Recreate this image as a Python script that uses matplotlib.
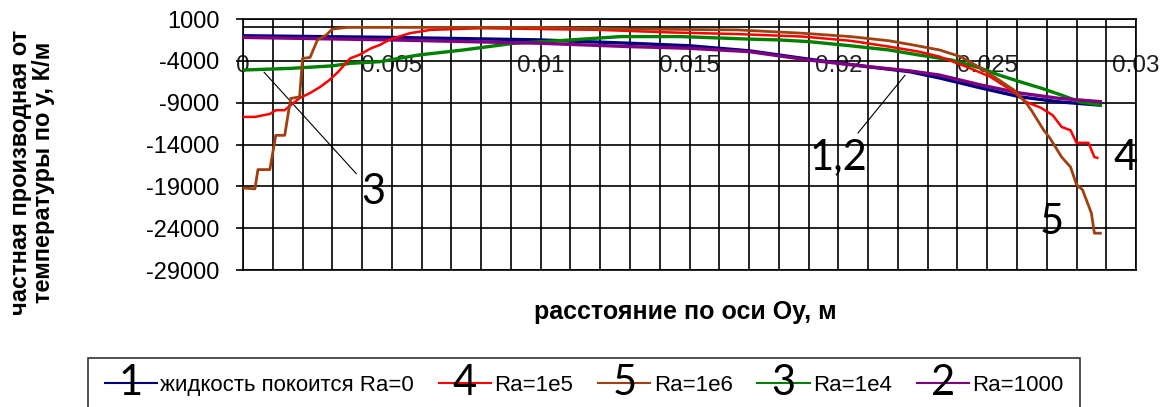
# Derivative of temperature along Oy for several Rayleigh numbers
import matplotlib
matplotlib.use('Agg')
import matplotlib.pyplot as plt
from matplotlib.ticker import MultipleLocator

plt.rcParams['font.family'] = ['Liberation Sans', 'DejaVu Sans']
plt.rcParams['axes.unicode_minus'] = False

# Ra = 0 (fluid at rest), curve 1
x_ra0 = [0, 0.005, 0.01, 0.013, 0.015, 0.017, 0.019, 0.021, 0.0224, 0.0234, 0.0248, 0.0261, 0.0274, 0.0288]
y_ra0 = [-1000, -1200, -1500, -1900, -2200, -2800, -3800, -4700, -5300, -6050, -7250, -8300, -8900, -9300]

# Ra = 1000, curve 2
x_ra1000 = [0, 0.005, 0.01, 0.013, 0.015, 0.017, 0.019, 0.021, 0.0224, 0.0234, 0.0248, 0.0261, 0.0274, 0.0288]
y_ra1000 = [-1200, -1500, -1900, -2300, -2500, -2900, -3900, -4700, -5200, -5700, -6900, -7850, -8480, -8880]

# Ra = 1e4, curve 3
x_ra1e4 = [0, 0.0016, 0.003, 0.0036, 0.0046, 0.0059, 0.0074, 0.0091, 0.0108, 0.0127, 0.0147,
           0.017, 0.018, 0.019, 0.0204, 0.0217, 0.0227, 0.0238, 0.0248, 0.0254, 0.0261, 0.0268,
           0.0275, 0.0281, 0.0288]
y_ra1e4 = [-5100, -4900, -4600, -4300, -4100, -3300, -2700, -1900, -1550, -1100, -1100,
           -1400, -1500, -1700, -2200, -2700, -3300, -3900, -4900, -5700, -6500, -7250,
           -8100, -8900, -9300]

# Ra = 1e5, curve 4
x_ra1e5 = [0, 0.0004, 0.0009, 0.0011, 0.0014, 0.0016, 0.0019, 0.00225, 0.0026, 0.0029, 0.0032,
           0.0036, 0.0039, 0.0043, 0.0046, 0.0049, 0.0056, 0.0063, 0.008, 0.012, 0.0143, 0.0166,
           0.0188, 0.0204, 0.0217, 0.0227, 0.0234, 0.0243, 0.0251, 0.0258, 0.0263, 0.0268,
           0.0272, 0.0275, 0.0278, 0.028, 0.0284, 0.0286, 0.0287]
y_ra1e5 = [-10700, -10700, -10350, -9900, -9900, -9300, -8450, -7850, -7100, -6300, -5300,
           -3700, -3300, -2500, -2100, -1500, -700, -300, -100, -300, -600, -800,
           -1100, -1600, -2300, -2900, -3500, -4700, -5900, -7500, -8900, -9600,
           -10500, -11900, -12300, -13800, -13800, -15500, -15600]

# Ra = 1e6, curve 5
x_ra1e6 = [0, 0.0004, 0.0005, 0.0009, 0.0011, 0.0014, 0.0016, 0.0019, 0.002, 0.00225, 0.0025,
           0.0028, 0.003, 0.0035, 0.01, 0.013, 0.0166, 0.0188, 0.0204, 0.0217, 0.0225, 0.0234,
           0.0241, 0.0248, 0.0254, 0.0259, 0.0263, 0.0265, 0.0269, 0.0271, 0.0275, 0.0278,
           0.028, 0.0282, 0.0285, 0.0286, 0.0288]
y_ra1e6 = [-19200, -19300, -17000, -17000, -12900, -12900, -8500, -8300, -3700, -3600, -1500,
           -900, -200, 0, 0, -200, -300, -700, -1100, -1600, -2100, -2700,
           -3500, -4900, -6300, -7500, -9000, -10000, -12300, -13200, -15500, -16700,
           -18800, -19400, -22200, -24600, -24600]

x_ticks = [0, 0.005, 0.01, 0.015, 0.02, 0.025, 0.03]
x_tick_labels = ['0', '0.005', '0.01', '0.015', '0.02', '0.025', '0.03']
y_ticks = [1000, -4000, -9000, -14000, -19000, -24000, -29000]
y_tick_labels = ['1000', '-4000', '-9000', '-14000', '-19000', '-24000', '-29000']

fig = plt.figure(figsize=(11.73, 4.07), dpi=100)
ax = fig.add_axes([0.2072, 0.3366, 0.7613, 0.6167])

# Series, drawn in legend order
l1, = ax.plot(x_ra0, y_ra0, color='#000080', lw=2.4, zorder=3)
l4, = ax.plot(x_ra1e5, y_ra1e5, color='#ff0000', lw=1.8, zorder=4)
l5, = ax.plot(x_ra1e6, y_ra1e6, color='#a0400f', lw=2.0, zorder=5)
l3, = ax.plot(x_ra1e4, y_ra1e4, color='#008000', lw=2.4, zorder=3)
l2, = ax.plot(x_ra1000, y_ra1000, color='#800080', lw=2.4, zorder=3)

ax.set_xlim(0, 0.03)
ax.set_ylim(-29000, 1000)

# Grid every 0.001 along x, every 5000 along y
ax.xaxis.set_major_locator(MultipleLocator(0.001))
ax.tick_params(axis='x', length=0, labelbottom=False)
ax.set_yticks(y_ticks)
ax.set_yticklabels(y_tick_labels)
ax.tick_params(axis='y', length=5, width=1.2, pad=12, labelsize=17)
ax.grid(True, color='black', lw=1.2)
ax.axhline(0, color='black', lw=1.2, zorder=2)
for sp in ax.spines.values():
    sp.set_color('black')
    sp.set_linewidth(1.2)

# x-axis labels hang from the y=0 line, as in the original spreadsheet chart
sec = ax.secondary_xaxis(0, transform=ax.transData)
sec.set_xticks(x_ticks)
sec.set_xticklabels(x_tick_labels)
sec.tick_params(length=0, pad=20, labelsize=17.5, labelcolor='#222222')
sec.spines['bottom'].set_visible(False)

# Axis titles
fig.text(0.027, 0.577, 'частная производная от\nтемпературы по у, К/м', rotation=90,
         ha='center', va='center', fontsize=17, fontweight='bold', linespacing=1.0)
fig.text(0.584, 0.233, 'расстояние по оси Оу, м', ha='center', va='center',
         fontsize=18, fontweight='bold')

# Curve numbers
num_font = dict(fontsize=30, family='Lato', color='black', ha='center', va='center')
ax.annotate('3', xy=(0.00064, -5100), xytext=(0.00437, -19700),
            arrowprops=dict(arrowstyle='-', color='black', lw=0.8), **num_font)
ax.annotate('1,2', xy=(0.0223, -5450), xytext=(0.02, -15500),
            arrowprops=dict(arrowstyle='-', color='black', lw=0.8), **num_font)
ax.text(0.02963, -15600, '4', **num_font)
ax.text(0.02718, -23300, '5', **num_font)

# Legend along the bottom, its lower edge cut off by the figure edge
labels = ['жидкость покоится Ra=0', 'Ra=1e5', 'Ra=1e6', 'Ra=1e4', 'Ra=1000']
handles = [l1, l4, l5, l3, l2]
leg = fig.legend(handles, labels, loc='upper left', bbox_to_anchor=(0.075, 0.1204),
                 ncol=5, fontsize=16, frameon=True, fancybox=False, edgecolor='#333333',
                 handlelength=2.35, handletextpad=0.15, columnspacing=1.12,
                 borderaxespad=0, borderpad=0.75, framealpha=1)
leg.get_frame().set_linewidth(1.2)
for h in leg.legend_handles:
    h.set_linewidth(1.5)

# Big curve numbers on top of the legend handles
fig.canvas.draw()
renderer = fig.canvas.get_renderer()
inv = fig.transFigure.inverted()
for h, num in zip(leg.legend_handles, ['1', '4', '5', '3', '2']):
    bb = h.get_window_extent(renderer)
    cx, cy = inv.transform(((bb.x0 + bb.x1) / 2, (bb.y0 + bb.y1) / 2))
    fig.text(cx, cy, num, zorder=10, **num_font)

fig.savefig('out.png', dpi=100)
